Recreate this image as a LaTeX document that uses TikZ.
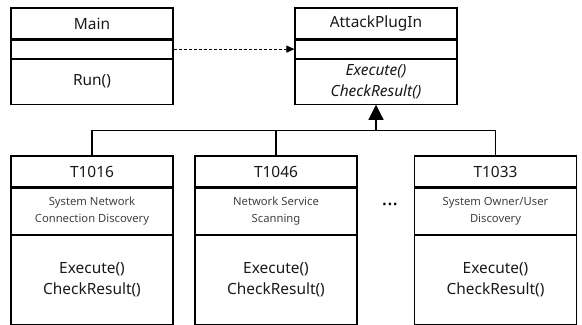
\documentclass[tikz,border=0pt]{standalone}
\usepackage{fontspec}
\setmainfont{Noto Sans}
\usetikzlibrary{positioning,arrows.meta}

\begin{document}
\begin{tikzpicture}[x=1bp,y=-1bp,
  box/.style={draw,line width=1.1bp,minimum width=162bp,inner sep=0pt,
    align=center,text=black!90},
  hdr/.style={box,minimum height=31bp,font=\fontsize{15.5}{18}\selectfont},
  attr/.style={box,minimum height=18bp},
  ops/.style={box,minimum height=45bp,font=\fontsize{15.5}{21}\selectfont},
  desc/.style={box,minimum height=46bp,font=\fontsize{11.3}{16.5}\selectfont,
    text=black!75},
  body/.style={box,minimum height=89bp,font=\fontsize{15.5}{21.5}\selectfont},
  inherit/.style={-{Triangle[width=15bp,length=15bp]},line width=1.1bp},
  uses/.style={-{Triangle[width=7bp,length=8bp]},line width=0.9bp,
    dash pattern=on 3bp off 2bp}]
  \useasboundingbox (0,0) rectangle (582,324);

  \node[hdr] (main) at (92,23.5) {Main};
  \node[attr,below=0pt of main] (mainattr) {};
  \node[ops,below=0pt of mainattr] (mainops) {Run()};

  \node[hdr] (plugin) at (376,23.5) {AttackPlugIn};
  \node[attr,below=0pt of plugin] (pluginattr) {};
  \node[ops,below=0pt of pluginattr] (pluginops)
    {\itshape Execute()\\ \itshape CheckResult()};

  \node[hdr] (tnconn) at (92,171.5) {T1016};
  \node[desc,below=0pt of tnconn] (tnconndesc)
    {System Network\\Connection Discovery};
  \node[body,below=0pt of tnconndesc] (tnconnops) {Execute()\\CheckResult()};

  \node[hdr] (tnscan) at (276,171.5) {T1046};
  \node[desc,below=0pt of tnscan] (tnscandesc) {Network Service\\Scanning};
  \node[body,below=0pt of tnscandesc] (tnscanops) {Execute()\\CheckResult()};

  \node[hdr] (tnowner) at (495.5,171.5) {T1033};
  \node[desc,below=0pt of tnowner] (tnownerdesc)
    {System Owner/User\\Discovery};
  \node[body,below=0pt of tnownerdesc] (tnownerops) {Execute()\\CheckResult()};

  \node[font=\fontsize{20}{20}\selectfont\bfseries] (dots) at (390,204) {...};

  \coordinate[below=26bp of pluginops] (bus);
  \draw[line width=1.1bp] (tnconn) |- (bus) -| (tnowner);
  \draw[line width=1.1bp] (tnscan) -- (tnscan |- bus);
  \draw[inherit] (bus) -- (pluginops);
  \draw[uses] (mainattr) -- (pluginattr);
\end{tikzpicture}
\end{document}
